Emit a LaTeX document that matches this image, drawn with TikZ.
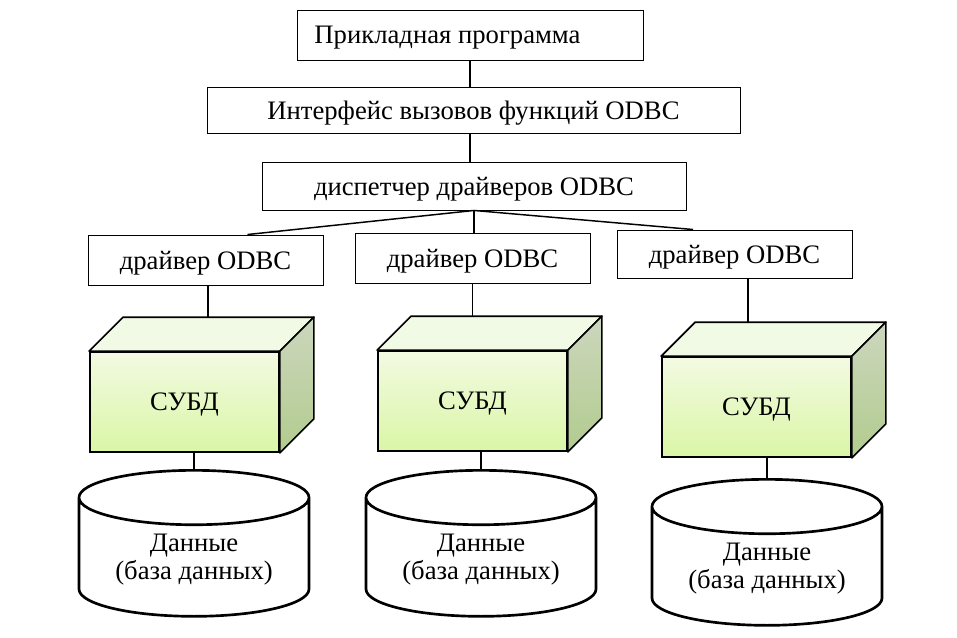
\documentclass[tikz,border=0pt]{standalone}
\usepackage{fontspec}
\setmainfont{Liberation Serif}
\usetikzlibrary{shapes.geometric, positioning}

\definecolor{frontTop}{RGB}{243,250,226}
\definecolor{frontBot}{RGB}{218,246,166}
\definecolor{topFace}{RGB}{241,250,228}
\definecolor{sideTop}{RGB}{204,214,190}
\definecolor{sideBot}{RGB}{178,204,142}

\begin{document}
\begin{tikzpicture}[
    x=0.75pt, y=-0.75pt,
    every node/.style={font=\fontsize{20}{21}\selectfont},
    block/.style={rectangle, draw, line width=0.7pt, minimum height=37.5pt, inner sep=2pt, text depth=0pt},
    driver/.style={block, minimum width=176.25pt},
    dbms/.style={rectangle, draw, line width=1.3pt, top color=frontTop, bottom color=frontBot,
        minimum width=141.75pt, minimum height=75pt, text depth=0pt},
    db/.style={cylinder, shape border rotate=90, aspect=0.34, draw, line width=2pt,
        minimum width=172.5pt, minimum height=109.5pt, align=center, inner sep=1pt, anchor=top},
    link/.style={draw, line width=1.1pt}
]
    \useasboundingbox (0,0) rectangle (957,638);

    % upper levels
    \node[block, minimum width=259.5pt] (app) at (470,35) {Прикладная программа\kern33.75pt\relax};
    \node[block, minimum width=399.75pt, minimum height=34.5pt] (api) at (473.5,110) {Интерфейс вызовов функций ODBC};
    \node[block, minimum width=318pt, minimum height=36pt] (manager) at (474,186) {диспетчер драйверов ODBC};

    % drivers
    \node[driver] (drv1) at (205.5,260) {драйвер ODBC};
    \node[driver] (drv2) at (472.5,258) {драйвер ODBC};
    \node[driver, minimum height=36pt] (drv3) at (734.5,254) {драйвер ODBC};

    % DBMS cubes (front faces)
    \node[dbms] (dbms1) at (184.5,402) {СУБД};
    \node[dbms] (dbms2) at (472.5,401) {СУБД};
    \node[dbms] (dbms3) at (756.5,407) {СУБД};

    \foreach \c in {dbms1,dbms2,dbms3} {
        \fill[topFace, draw=black, line width=1.3pt, line join=round]
            (\c.north west) -- ([shift={(25.5pt,25.5pt)}]\c.north west)
            -- ([shift={(25.5pt,25.5pt)}]\c.north east) -- (\c.north east) -- cycle;
        \shade[top color=sideTop, bottom color=sideBot, draw=black, line width=1.3pt, line join=round]
            (\c.north east) -- ([shift={(25.5pt,25.5pt)}]\c.north east)
            -- ([shift={(25.5pt,25.5pt)}]\c.south east) -- (\c.south east) -- cycle;
        \coordinate (\c back) at ([shift={(25.5pt,25.5pt)}]\c.north);
    }

    % databases
    \node[db] (db1) at (194,469) {Данные\\(база данных)};
    \node[db] (db2) at (481,469) {Данные\\(база данных)};
    \node[db] (db3) at (767,478) {Данные\\(база данных)};

    % connectors
    \draw[link] (app.south) -- (app.south |- api.north);
    \draw[link] (app.south |- api.south) -- (app.south |- manager.north);
    \draw[link] (manager.south) -- ([xshift=31.5pt]drv1.north);
    \draw[link] (manager.south) -- (manager.south |- drv2.north);
    \draw[link] (manager.south) -- ([xshift=-31pt]drv3.north);
    \draw[link] ([xshift=2pt]drv1.south) -- ([xshift=2pt]drv1.south |- dbms1back);
    \draw[link] (drv2.south) -- (drv2.south |- dbms2back);
    \draw[link] ([xshift=10pt]drv3.south) -- ([xshift=10pt]drv3.south |- dbms3back);
    \draw[link] (db1.top |- dbms1.south) -- (db1.top);
    \draw[link] (db2.top |- dbms2.south) -- (db2.top);
    \draw[link] (db3.top |- dbms3.south) -- (db3.top);
\end{tikzpicture}
\end{document}
